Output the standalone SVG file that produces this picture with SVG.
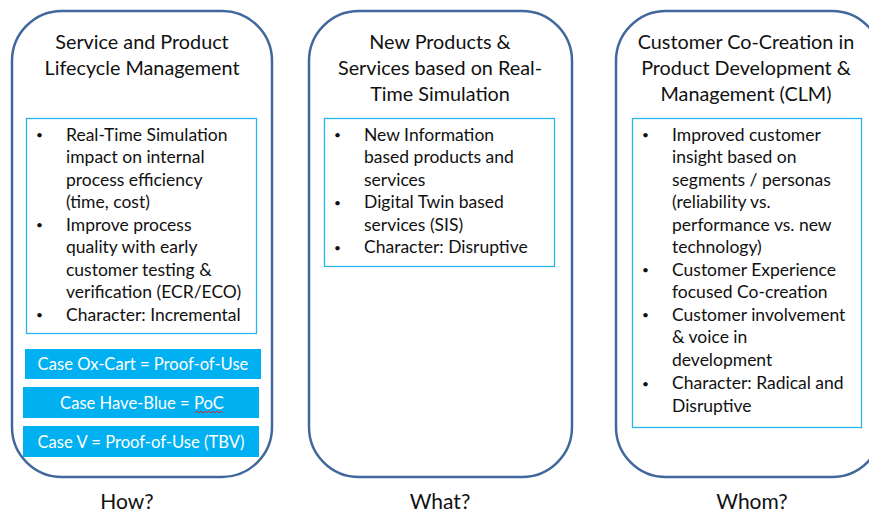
<svg xmlns="http://www.w3.org/2000/svg" width="869" height="514" viewBox="0 0 869 514">
<style>
.col{fill:#fff;stroke:#41689c;stroke-width:2.5}
.inner{fill:#fff;stroke:#29b5ee;stroke-width:1.3}
.case{fill:#00b0f0}
text{font-family:Lato,"Open Sans",sans-serif;fill:#111}
.t{font-size:19.8px;text-anchor:middle}
.b{font-size:17.5px}
.d{font-size:12px}
.w{font-size:16.6px;fill:#fff;text-anchor:middle}
.q{font-size:21px;text-anchor:middle}
</style>
<rect width="869" height="514" fill="#fff"/>
<g id="how">
<rect class="col" x="12" y="11" width="260" height="466" rx="50"/>
<text class="t" x="142" y="48.5">Service and Product</text>
<text class="t" x="142" y="75">Lifecycle Management</text>
<rect class="inner" x="26.5" y="118.5" width="230" height="215"/>
<g class="b">
<text class="d" x="36" y="139">•</text><text x="66" y="140.5">Real-Time Simulation</text>
<text x="66" y="163">impact on internal</text>
<text x="66" y="185.5">process efficiency</text>
<text x="66" y="208">(time, cost)</text>
<text class="d" x="36" y="229">•</text><text x="66" y="230.5">Improve process</text>
<text x="66" y="253">quality with early</text>
<text x="66" y="275.5">customer testing &amp;</text>
<text x="66" y="298">verification (ECR/ECO)</text>
<text class="d" x="36" y="319">•</text><text x="66" y="320.5">Character: Incremental</text>
</g>
<rect class="case" x="25" y="349" width="236" height="30"/>
<text class="w" x="143" y="370">Case Ox-Cart = Proof-of-Use</text>
<rect class="case" x="23" y="387" width="236" height="31"/>
<text class="w" x="142" y="409">Case Have-Blue = PoC</text>
<path d="M195 413 l2 -2 l2 2 l2 -2 l2 2 l2 -2 l2 2 l2 -2 l2 2 l2 -2 l2 2 l2 -2 l2 2 l2 -2 l2 2" fill="none" stroke="#e02020" stroke-width="0.9"/>
<rect class="case" x="23" y="426" width="236" height="31"/>
<text class="w" x="141" y="448">Case V = Proof-of-Use (TBV)</text>
<text class="q" x="127" y="509">How?</text>
</g>
<g id="what">
<rect class="col" x="309" y="11" width="263" height="466" rx="50"/>
<text class="t" x="440" y="48.5">New Products &amp;</text>
<text class="t" x="440" y="75">Services based on Real-</text>
<text class="t" x="440" y="100.5">Time Simulation</text>
<rect class="inner" x="324.5" y="118.5" width="230" height="148"/>
<g class="b">
<text class="d" x="334" y="139">•</text><text x="364" y="140.5">New Information</text>
<text x="364" y="163">based products and</text>
<text x="364" y="185.5">services</text>
<text class="d" x="334" y="206.5">•</text><text x="364" y="208">Digital Twin based</text>
<text x="364" y="230.5">services (SIS)</text>
<text class="d" x="334" y="251.5">•</text><text x="364" y="253">Character: Disruptive</text>
</g>
<text class="q" x="440" y="509">What?</text>
</g>
<g id="whom">
<rect class="col" x="616" y="11" width="266" height="466" rx="50"/>
<text class="t" x="746" y="48.5">Customer Co-Creation in</text>
<text class="t" x="746" y="75">Product Development &amp;</text>
<text class="t" x="746" y="100.5">Management (CLM)</text>
<rect class="inner" x="632.5" y="118.5" width="229" height="309"/>
<g class="b">
<text class="d" x="642" y="139">•</text><text x="672" y="140.5">Improved customer</text>
<text x="672" y="163">insight based on</text>
<text x="672" y="185.5">segments / personas</text>
<text x="672" y="208">(reliability vs.</text>
<text x="672" y="230.5">performance vs. new</text>
<text x="672" y="253">technology)</text>
<text class="d" x="642" y="274">•</text><text x="672" y="275.5">Customer Experience</text>
<text x="672" y="298">focused Co-creation</text>
<text class="d" x="642" y="319">•</text><text x="672" y="320.5">Customer involvement</text>
<text x="672" y="343">&amp; voice in</text>
<text x="672" y="366">development</text>
<text class="d" x="642" y="387.5">•</text><text x="672" y="389">Character: Radical and</text>
<text x="672" y="412">Disruptive</text>
</g>
<text class="q" x="752" y="509">Whom?</text>
</g>
<g id="connectors"/>
</svg>
